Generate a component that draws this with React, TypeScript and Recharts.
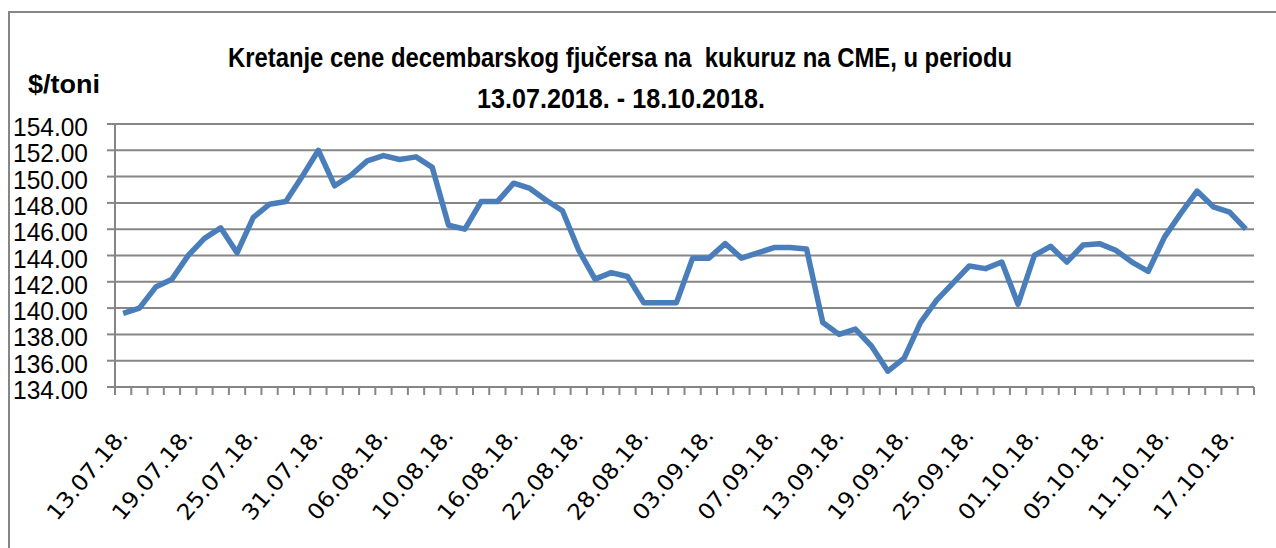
import React from "react";
import { LineChart, Line, XAxis, YAxis, CartesianGrid } from "recharts";

const DATES: string[] = [
  "13.07.18.", "16.07.18.", "17.07.18.", "18.07.18.", "19.07.18.", "20.07.18.",
  "23.07.18.", "24.07.18.", "25.07.18.", "26.07.18.", "27.07.18.", "30.07.18.", "31.07.18.",
  "01.08.18.", "02.08.18.", "03.08.18.", "06.08.18.", "07.08.18.", "08.08.18.", "09.08.18.", "10.08.18.",
  "13.08.18.", "14.08.18.", "15.08.18.", "16.08.18.", "17.08.18.", "20.08.18.", "21.08.18.", "22.08.18.",
  "23.08.18.", "24.08.18.", "27.08.18.", "28.08.18.", "29.08.18.", "30.08.18.", "31.08.18.",
  "03.09.18.", "04.09.18.", "05.09.18.", "06.09.18.", "07.09.18.", "10.09.18.", "11.09.18.", "12.09.18.",
  "13.09.18.", "14.09.18.", "17.09.18.", "18.09.18.", "19.09.18.", "20.09.18.", "21.09.18.", "24.09.18.",
  "25.09.18.", "26.09.18.", "27.09.18.", "28.09.18.",
  "01.10.18.", "02.10.18.", "03.10.18.", "04.10.18.", "05.10.18.", "08.10.18.", "09.10.18.", "10.10.18.",
  "11.10.18.", "12.10.18.", "15.10.18.", "16.10.18.", "17.10.18.", "18.10.18.",
];

const PRICES: number[] = [
  139.6, 140.0, 141.6, 142.2, 144.0, 145.3, 146.1, 144.2, 146.9, 147.9, 148.1, 150.0, 152.0,
  149.3, 150.1, 151.2, 151.6, 151.3, 151.5, 150.7, 146.3, 146.0, 148.1, 148.1, 149.5, 149.1, 148.2, 147.4, 144.4,
  142.2, 142.7, 142.4, 140.4, 140.4, 140.4, 143.8,
  143.8, 144.9, 143.8, 144.2, 144.6, 144.6, 144.5, 138.9, 138.0, 138.4, 137.1, 135.2, 136.2, 138.9, 140.6, 141.9,
  143.2, 143.0, 143.5, 140.3,
  144.0, 144.7, 143.5, 144.8, 144.9, 144.4, 143.5, 142.8, 145.4, 147.2, 148.9, 147.7, 147.3, 146.0,
];

const Y_TICKS: number[] = [134, 136, 138, 140, 142, 144, 146, 148, 150, 152, 154];
const LABEL_EVERY = 4;

const TITLE_LINE_1 = "Kretanje cene decembarskog fjučersa na  kukuruz na CME, u periodu";
const TITLE_LINE_2 = "13.07.2018. - 18.10.2018.";
const Y_UNIT = "$/toni";

const data = PRICES.map((v, i) => ({ i, date: DATES[i], price: v }));
const N = data.length;
const BOUNDARIES = Array.from({ length: N + 1 }, (_, k) => k - 0.5);

const W = 1276;
const H = 548;
const MARGIN = { top: 124, right: 22, bottom: 0, left: 0 };
const Y_AXIS_W = 115;
const X_AXIS_H = 161;
const PLOT_W = W - MARGIN.left - MARGIN.right - Y_AXIS_W;
const STEP = PLOT_W / N;

const GRID = "#868686";
const LINE = "#4A7EBB";

const YTick = (props: any) => {
  const { x, y, payload } = props;
  return (
    <text
      x={x}
      y={y}
      dy={12}
      textAnchor="end"
      fontFamily="'Liberation Sans', Arial, sans-serif"
      fontSize={25}
      fill="#000"
      textLength={75}
      lengthAdjust="spacingAndGlyphs"
    >
      {Number(payload.value).toFixed(2)}
    </text>
  );
};

const XTick = (props: any) => {
  const { x, y, payload } = props;
  const k = payload.value + 0.5;
  if (k % LABEL_EVERY !== 0 || k >= N) return <g />;
  const cx = x + STEP / 2;
  return (
    <text
      transform={`translate(${cx},${y}) rotate(-50)`}
      x={0}
      y={0}
      dy="0.35em"
      textAnchor="end"
      fontFamily="'DejaVu Sans', sans-serif"
      fontSize={22}
      fill="#000"
      textLength={112}
      lengthAdjust="spacingAndGlyphs"
    >
      {DATES[k]}
    </text>
  );
};

export default function App() {
  return (
    <div style={{ position: "relative", width: W, height: H, background: "#fff", overflow: "hidden" }}>
      <style>{"body{margin:0;}"}</style>
      <LineChart width={W} height={H} data={data} margin={MARGIN}>
        <CartesianGrid vertical={false} stroke={GRID} strokeWidth={2} />
        <XAxis
          dataKey="i"
          type="number"
          domain={[-0.5, N - 0.5]}
          ticks={BOUNDARIES}
          interval={0}
          height={X_AXIS_H}
          tickSize={8}
          tickMargin={36}
          stroke={GRID}
          strokeWidth={2}
          tickLine={{ stroke: GRID, strokeWidth: 2 }}
          axisLine={{ stroke: GRID, strokeWidth: 2 }}
          tick={<XTick />}
          allowDataOverflow
        />
        <YAxis
          type="number"
          domain={[134, 154]}
          ticks={Y_TICKS}
          interval={0}
          width={Y_AXIS_W}
          tickSize={8}
          tickMargin={19}
          tickLine={{ stroke: GRID, strokeWidth: 2 }}
          axisLine={{ stroke: GRID, strokeWidth: 2 }}
          tick={<YTick />}
          allowDataOverflow
        />
        <Line
          type="linear"
          dataKey="price"
          stroke={LINE}
          strokeWidth={5.5}
          strokeLinejoin="round"
          dot={false}
          activeDot={false}
          isAnimationActive={false}
        />
      </LineChart>
      <svg
        width={W}
        height={H}
        style={{ position: "absolute", left: 0, top: 0, pointerEvents: "none" }}
      >
        <path d={`M9 ${H} V12 H${W}`} fill="none" stroke={GRID} strokeWidth={2} />
        <text
          x={620}
          y={67}
          textAnchor="middle"
          fontFamily="'Liberation Sans', Arial, sans-serif"
          fontWeight="bold"
          fontSize={28}
          fill="#000"
          textLength={784}
          lengthAdjust="spacingAndGlyphs"
          style={{ whiteSpace: "pre" }}
        >
          {TITLE_LINE_1}
        </text>
        <text
          x={621}
          y={108}
          textAnchor="middle"
          fontFamily="'Liberation Sans', Arial, sans-serif"
          fontWeight="bold"
          fontSize={28}
          fill="#000"
          textLength={288}
          lengthAdjust="spacingAndGlyphs"
        >
          {TITLE_LINE_2}
        </text>
        <text
          x={28}
          y={93}
          fontFamily="'Liberation Sans', Arial, sans-serif"
          fontWeight="bold"
          fontSize={26}
          fill="#000"
          textLength={72}
          lengthAdjust="spacingAndGlyphs"
        >
          {Y_UNIT}
        </text>
      </svg>
    </div>
  );
}
